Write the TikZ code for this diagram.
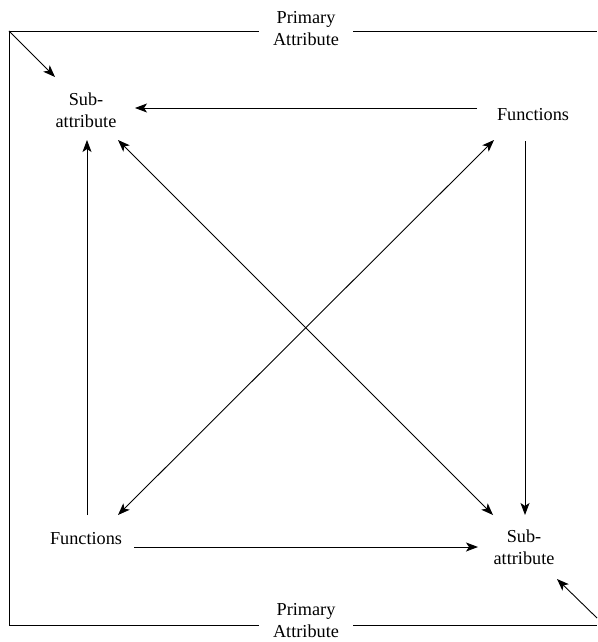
\documentclass[tikz,border=0pt]{standalone}
\usepackage{fontspec}
\setmainfont{Liberation Serif}
\usetikzlibrary{arrows.meta}
\begin{document}
\begin{tikzpicture}[x=1pt,y=-1pt,
  lbl/.style={inner sep=0pt,align=center,font=\fontsize{18.25}{22}\selectfont},
  ln/.style={line width=0.9pt},
  arr/.style={ln,-{Stealth[length=12pt,width=9pt,inset=3pt]}},
  darr/.style={ln,{Stealth[length=12pt,width=9pt,inset=3pt]}-{Stealth[length=12pt,width=9pt,inset=3pt]}}]
\useasboundingbox (0,0) rectangle (597,642);
% frame corners
\coordinate (tl) at (9,31);
\coordinate (tr) at (597,31);
\coordinate (bl) at (9,625);
\coordinate (br) at (597,625);
% labels
\node[lbl,inner xsep=14pt] (ptop) at (306,29) {Primary\\Attribute};
\node[lbl,inner xsep=14pt] (pbot) at (306,621) {Primary\\Attribute};
\node[lbl] (s1) at (86,110) {Sub-\\attribute};
\node[lbl] (f1) at (533,115) {Functions};
\node[lbl] (f2) at (86,539) {Functions};
\node[lbl] (s2) at (524,547) {Sub-\\attribute};
% frame
\draw[ln] (tl) -- (ptop.west |- tl);
\draw[ln] (ptop.east |- tl) -- (tr);
\draw[ln] (tl) -- (bl) -- (pbot.west |- bl);
\draw[ln] (pbot.east |- bl) -- (br);
% arrow end points
\coordinate (s1c) at (55,77);
\coordinate (s1e) at (135,108);
\coordinate (s1s) at (87,140);
\coordinate (s1d) at (118,140);
\coordinate (f1w) at (477,108);
\coordinate (f1s) at (525,141);
\coordinate (f1d) at (494,140);
\coordinate (f2n) at (87,515);
\coordinate (f2d) at (118,515);
\coordinate (f2e) at (134,547);
\coordinate (s2n) at (525,515);
\coordinate (s2d) at (493,515);
\coordinate (s2w) at (478,547);
\coordinate (s2c) at (557,579);
\coordinate (brs) at (597,618);
% connectors
\draw[arr] (tl) -- (s1c);
\draw[arr] (brs) -- (s2c);
\draw[arr] (f1w) -- (s1e);
\draw[arr] (f1s) -- (s2n);
\draw[arr] (f2e) -- (s2w);
\draw[arr] (f2n) -- (s1s);
\draw[darr] (s1d) -- (s2d);
\draw[darr] (f2d) -- (f1d);
\end{tikzpicture}
\end{document}
